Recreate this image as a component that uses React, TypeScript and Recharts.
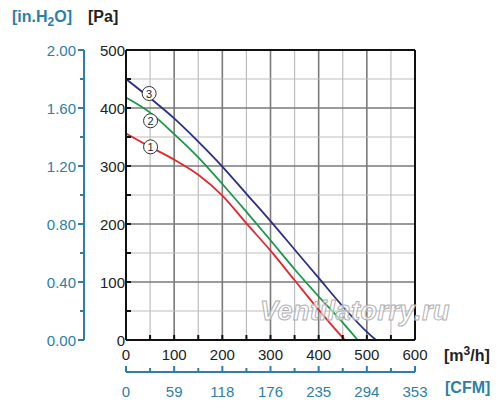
import React from "react";
import {
  LineChart,
  Line,
  XAxis,
  YAxis,
  ReferenceLine,
  ReferenceDot,
} from "recharts";

// fan curves, flow in m3/h and pressure in Pa
const curve1 = [
  { q: 0, p: 356 }, { q: 50, p: 333 }, { q: 100, p: 311 }, { q: 150, p: 285 },
  { q: 200, p: 249 }, { q: 250, p: 201 }, { q: 300, p: 154 }, { q: 350, p: 103 },
  { q: 400, p: 52 }, { q: 454, p: 0 },
];
const curve2 = [
  { q: 0, p: 418 }, { q: 50, p: 392 }, { q: 100, p: 355 }, { q: 150, p: 315 },
  { q: 200, p: 269 }, { q: 250, p: 221 }, { q: 300, p: 172 }, { q: 350, p: 122 },
  { q: 400, p: 75 }, { q: 450, p: 30 }, { q: 481, p: 0 },
];
const curve3 = [
  { q: 0, p: 450 }, { q: 50, p: 417 }, { q: 100, p: 382 }, { q: 150, p: 342 },
  { q: 200, p: 299 }, { q: 250, p: 252 }, { q: 300, p: 205 }, { q: 350, p: 156 },
  { q: 400, p: 107 }, { q: 450, p: 58 }, { q: 500, p: 14 }, { q: 519, p: 0 },
];

const curveLabels = [
  { q: 51, p: 333, text: "1" },
  { q: 51, p: 378, text: "2" },
  { q: 48, p: 425, text: "3" },
];

const flowTicks = [0, 50, 100, 150, 200, 250, 300, 350, 400, 450, 500, 550, 600];
const pressureTicks = [0, 50, 100, 150, 200, 250, 300, 350, 400, 450, 500];
const inchTicks = [0, 0.2, 0.4, 0.6, 0.8, 1.0, 1.2, 1.4, 1.6, 1.8, 2.0];
const cfmLabels = ["0", "59", "118", "176", "235", "294", "353"];

const BLUE_AXIS = "#2b7fa9";
const FONT = "'Liberation Sans', Arial, sans-serif";

const FlowTick = ({ x, y, payload }: any) => {
  const major = payload.value % 100 === 0;
  return (
    <g>
      <line x1={x} x2={x} y1={y} y2={y - 5} stroke="#111" strokeWidth={2} />
      {major && (
        <text x={x} y={y + 14} textAnchor="middle" dominantBaseline="central" fill="#222" fontSize={15} fontFamily={FONT}>
          {payload.value}
        </text>
      )}
    </g>
  );
};

const CfmTick = ({ x, y, payload }: any) => {
  const major = payload.value % 100 === 0;
  return (
    <g>
      <line x1={x} x2={x} y1={y} y2={y - (major ? 6 : 4)} stroke={BLUE_AXIS} strokeWidth={2} />
      {major && (
        <text x={x} y={y + 19} textAnchor="middle" dominantBaseline="central" fill={BLUE_AXIS} fontSize={15} fontFamily={FONT}>
          {cfmLabels[payload.value / 100]}
        </text>
      )}
    </g>
  );
};

const PressureTick = ({ x, y, payload }: any) => {
  const major = payload.value % 100 === 0;
  return (
    <g>
      <line x1={x} x2={x + 5} y1={y} y2={y} stroke="#111" strokeWidth={2} />
      {major && (
        <text x={x - 1} y={y} textAnchor="end" dominantBaseline="central" fill="#222" fontSize={15} fontFamily={FONT}>
          {payload.value}
        </text>
      )}
    </g>
  );
};

const InchTick = ({ x, y, payload }: any) => {
  const major = Math.round(payload.value * 10) % 4 === 0;
  return (
    <g>
      <line x1={x} x2={x - (major ? 6 : 4)} y1={y} y2={y} stroke={BLUE_AXIS} strokeWidth={2} />
      {major && (
        <text x={x - 8} y={y} textAnchor="end" dominantBaseline="central" fill={BLUE_AXIS} fontSize={15} fontFamily={FONT}>
          {payload.value.toFixed(2)}
        </text>
      )}
    </g>
  );
};

const CircleLabel = ({ cx, cy, text }: any) => (
  <g>
    <circle cx={cx} cy={cy} r={7} fill="#fff" stroke="#333" strokeWidth={1} />
    <text x={cx} y={cy} textAnchor="middle" dominantBaseline="central" fontSize={11} fill="#222" fontFamily={FONT}>
      {text}
    </text>
  </g>
);

const overlay: React.CSSProperties = {
  position: "absolute",
  fontFamily: FONT,
  fontWeight: "bold",
  fontSize: 16,
  whiteSpace: "nowrap",
};

export default function App() {
  return (
    <div style={{ position: "relative", width: 492, height: 405 }}>
      <LineChart
        width={492}
        height={405}
        margin={{ top: 42, right: 85, bottom: 0, left: 0 }}
      >
        <XAxis
          xAxisId="b_cfm"
          type="number"
          dataKey="q"
          domain={[0, 600]}
          ticks={flowTicks}
          interval={0}
          height={41}
          tickSize={0}
          tickMargin={0}
          tickLine={false}
          axisLine={{ stroke: BLUE_AXIS, strokeWidth: 2 }}
          tick={<CfmTick />}
          allowDataOverflow
        />
        <XAxis
          xAxisId="a_flow"
          type="number"
          dataKey="q"
          domain={[0, 600]}
          ticks={flowTicks}
          interval={0}
          height={32}
          tickSize={0}
          tickMargin={0}
          tickLine={false}
          axisLine={{ stroke: "#111", strokeWidth: 2 }}
          tick={<FlowTick />}
          allowDataOverflow
        />
        <YAxis
          yAxisId="b_inch"
          type="number"
          domain={[0, 2]}
          ticks={inchTicks}
          interval={0}
          width={76}
          tickSize={0}
          tickMargin={0}
          tickLine={false}
          axisLine={{ stroke: BLUE_AXIS, strokeWidth: 2 }}
          tick={<InchTick />}
          allowDataOverflow
        />
        <YAxis
          yAxisId="a_pa"
          type="number"
          domain={[0, 500]}
          ticks={pressureTicks}
          interval={0}
          width={42}
          tickSize={0}
          tickMargin={0}
          tickLine={false}
          axisLine={{ stroke: "#111", strokeWidth: 2 }}
          tick={<PressureTick />}
          allowDataOverflow
        />

        {flowTicks.slice(1, -1).map((v) => (
          <ReferenceLine
            key={"v" + v}
            xAxisId="a_flow"
            yAxisId="a_pa"
            x={v}
            stroke={v % 100 === 0 ? "#7a7a7a" : "#bdbdbd"}
            strokeWidth={v % 100 === 0 ? 1.6 : 1.2}
          />
        ))}
        {pressureTicks.slice(1, -1).map((v) => (
          <ReferenceLine
            key={"h" + v}
            xAxisId="a_flow"
            yAxisId="a_pa"
            y={v}
            stroke={v % 100 === 0 ? "#7a7a7a" : "#bdbdbd"}
            strokeWidth={v % 100 === 0 ? 1.6 : 1.2}
          />
        ))}
        <ReferenceLine xAxisId="a_flow" yAxisId="a_pa" y={500} stroke="#111" strokeWidth={2} />
        <ReferenceLine xAxisId="a_flow" yAxisId="a_pa" x={600} stroke="#111" strokeWidth={2} />

        <Line xAxisId="a_flow" yAxisId="a_pa" data={curve1} dataKey="p" type="monotone" stroke="#e5262b" strokeWidth={1.8} dot={false} isAnimationActive={false} />
        <Line xAxisId="a_flow" yAxisId="a_pa" data={curve2} dataKey="p" type="monotone" stroke="#18994a" strokeWidth={1.8} dot={false} isAnimationActive={false} />
        <Line xAxisId="a_flow" yAxisId="a_pa" data={curve3} dataKey="p" type="monotone" stroke="#2b2f88" strokeWidth={1.8} dot={false} isAnimationActive={false} />

        {curveLabels.map((c) => (
          <ReferenceDot
            key={c.text}
            xAxisId="a_flow"
            yAxisId="a_pa"
            x={c.q}
            y={c.p}
            shape={(props: any) => <CircleLabel cx={props.cx} cy={props.cy} text={c.text} />}
          />
        ))}
      </LineChart>

      <div style={{ ...overlay, left: 4, top: 0, color: BLUE_AXIS }}>
        [in.H<sub style={{ fontSize: 12 }}>2</sub>O]
      </div>
      <div style={{ ...overlay, left: 80, top: 0, color: "#222" }}>[Pa]</div>
      <div style={{ ...overlay, left: 436, top: 336, color: "#222" }}>
        [m<sup style={{ fontSize: 12 }}>3</sup>/h]
      </div>
      <div style={{ ...overlay, left: 437, top: 371, color: BLUE_AXIS }}>[CFM]</div>
      <div
        style={{
          ...overlay,
          left: 252,
          top: 288,
          fontSize: 27,
          fontStyle: "italic",
          color: "rgba(255,255,255,0.6)",
          WebkitTextStroke: "1px #b0b0b0",
          letterSpacing: 0.5,
        }}
      >
        Ventilatorry.ru
      </div>
    </div>
  );
}
